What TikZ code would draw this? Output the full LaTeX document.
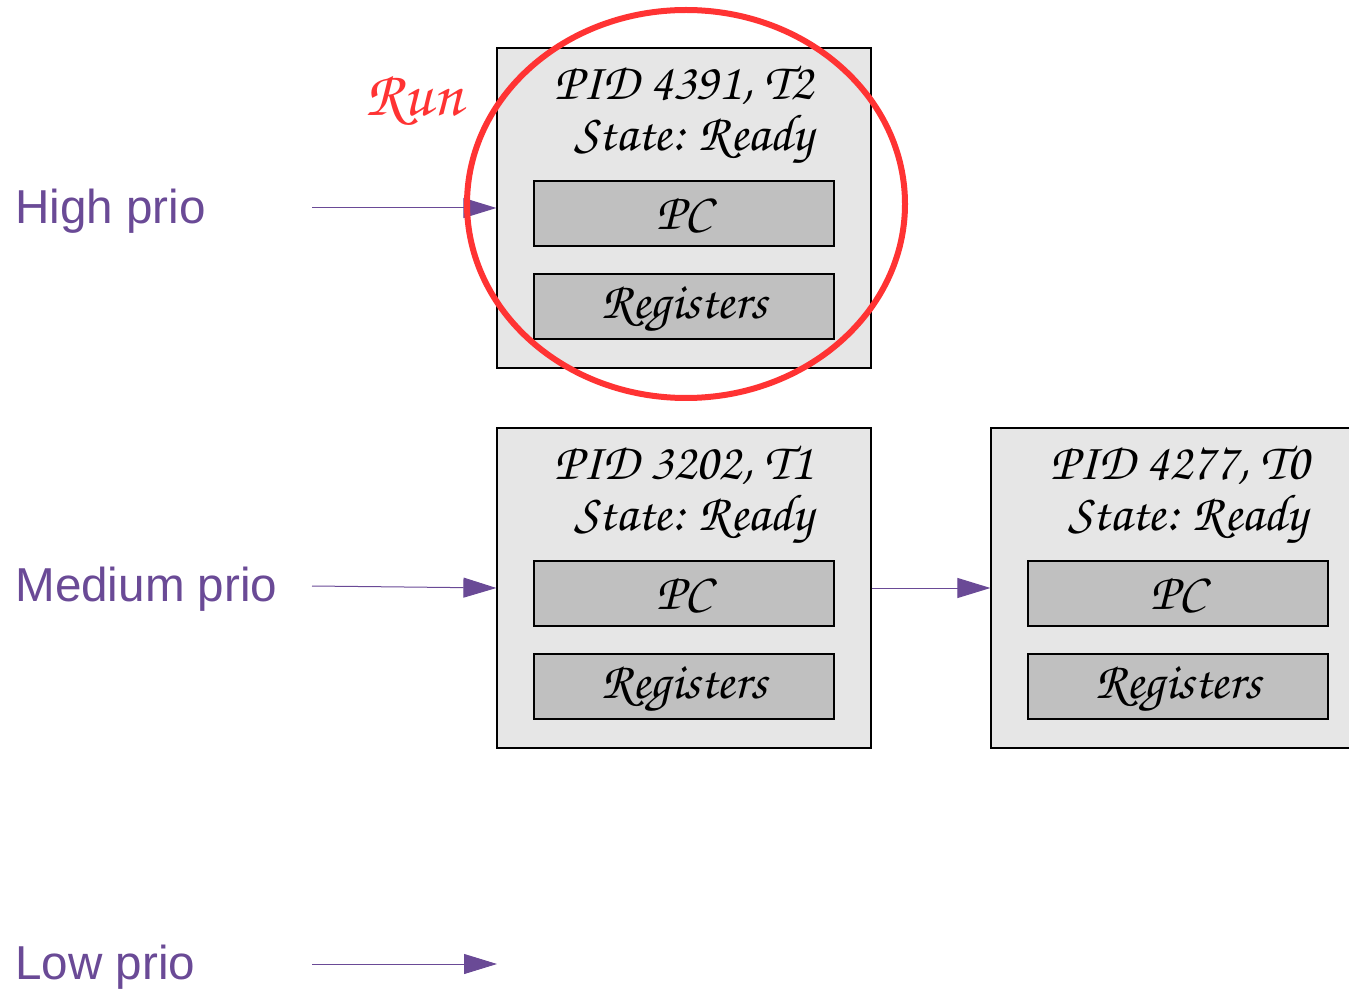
\documentclass[tikz,border=0pt]{standalone}
\usepackage{fontspec}
\usepackage[T1,TU]{fontenc}
\usetikzlibrary{arrows.meta,shapes.geometric}
\newfontfamily\labelfont{Liberation Sans}
\newcommand{\chanc}{\fontencoding{T1}\fontfamily{pzc}\fontseries{mb}\fontshape{it}\selectfont}
\definecolor{prio}{HTML}{6A4A96}
\definecolor{runred}{HTML}{FF3333}
\definecolor{pcbfill}{HTML}{E6E6E6}
\definecolor{fieldfill}{HTML}{C0C0C0}
\tikzset{
  prio label/.style={anchor=west, inner sep=0pt, text=prio, font=\labelfont\fontsize{23.8}{28}\selectfont},
  queue arrow/.style={draw=prio, line width=0.5pt, -{Triangle[length=16.5pt,width=10pt]}},
  pcb/.style={draw=black, line width=0.6pt, fill=pcbfill, minimum width=187pt, minimum height=160pt, inner sep=0pt},
  field/.style={draw=black, line width=0.6pt, fill=fieldfill, minimum width=150pt, minimum height=32.5pt, inner sep=0pt},
  headtext/.style={inner sep=0pt, font=\chanc\fontsize{26}{30}\selectfont},
}
\begin{document}
\begin{tikzpicture}[x=0.5pt, y=-0.5pt]
\useasboundingbox (0,0) rectangle (1349,989);
\clip (0,0) rectangle (1349,989);

% priority queue labels and their entry points
\node[prio label] (high) at (15,211) {High prio};
\node[prio label] (medium) at (15,589) {Medium prio};
\node[prio label] (low) at (15,967) {Low prio};
\coordinate (hs) at (312,208);
\coordinate (ms) at (312,586);
\coordinate (ls) at (312,964);
\coordinate (le) at (497,964);

% process control block of T2
\node[pcb] (t2) at (684,208) {};
\node[headtext] (t2pid) at (684,86) {PID 4391, T2};
\node[headtext] (t2st) at (694,140) {State: Ready};
\node[field] (t2pc) at (684,213.5) {};
\node[field] (t2reg) at (684,306.5) {};
\node[headtext] (t2pct) at (684,214) {PC};
\node[headtext] (t2regt) at (684,309) {Registers};

% process control block of T1
\node[pcb] (t1) at (684,588) {};
\node[headtext] (t1pid) at (684,466) {PID 3202, T1};
\node[headtext] (t1st) at (694,520) {State: Ready};
\node[field] (t1pc) at (684,593.5) {};
\node[field] (t1reg) at (684,686.5) {};
\node[headtext] (t1pct) at (684,594) {PC};
\node[headtext] (t1regt) at (684,689) {Registers};

% process control block of T0
\node[pcb] (t0) at (1178,588) {};
\node[headtext] (t0pid) at (1180,466) {PID 4277, T0};
\node[headtext] (t0st) at (1188,520) {State: Ready};
\node[field] (t0pc) at (1178,593.5) {};
\node[field] (t0reg) at (1178,686.5) {};
\node[headtext] (t0pct) at (1178,594) {PC};
\node[headtext] (t0regt) at (1178,689) {Registers};

% queue links
\draw[queue arrow] (hs) -- (t2.west);
\draw[queue arrow] (ms) -- (t1.west);
\draw[queue arrow] (ls) -- (le);
\draw[queue arrow] (t1.east) -- (t0.west);

% running process marker
\node[draw=runred, line width=3pt, ellipse, minimum width=219pt, minimum height=194pt, inner sep=0pt] (run) at (686,204) {};
\node[inner sep=0pt, text=runred, font=\chanc\fontsize{32}{36}\selectfont] (runlbl) at (414,100) {Run};
\end{tikzpicture}
\end{document}
